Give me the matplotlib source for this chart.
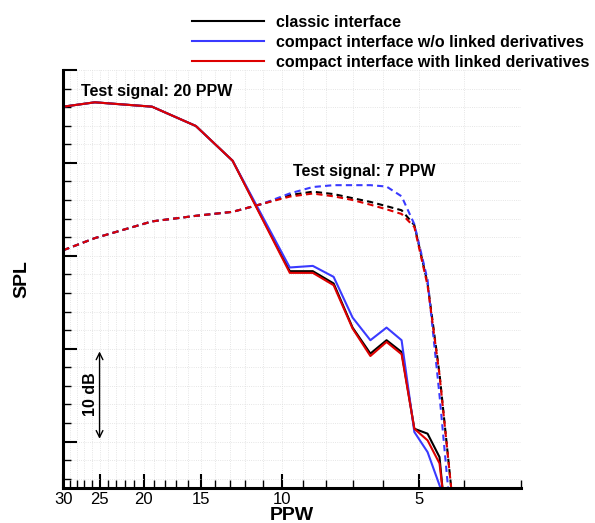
import matplotlib
matplotlib.use("Agg")
import matplotlib.pyplot as plt
from matplotlib.ticker import FixedLocator, NullFormatter, MultipleLocator

plt.rcParams['font.family'] = ['Liberation Sans', 'DejaVu Sans']

# test signal 20 PPW (solid)
ppw_20 = [30, 25.6, 19.2, 15.4, 12.8, 9.6, 8.55, 7.7, 7.0, 6.4, 5.9, 5.47, 5.13, 4.8, 4.52, 4.40]
classic_20 = [-3.95, -3.48, -3.95, -6.03, -9.77, -21.66, -21.66, -22.98, -27.73, -30.53, -29.09, -30.36, -38.62, -39.15, -41.67, -47.7]
compact_20 = [-3.95, -3.48, -3.95, -6.03, -9.77, -21.26, -21.09, -22.27, -26.65, -29.09, -27.73, -29.09, -38.97, -41.13, -44.7, -46.4]
linked_20 = [-3.95, -3.48, -3.95, -6.03, -9.77, -21.84, -21.84, -23.17, -27.83, -30.79, -29.28, -30.60, -38.62, -39.87, -42.35, -47.3]

# test signal 7 PPW (dashed)
ppw_7 = [30, 25.6, 19.2, 15.4, 12.8, 11.0, 9.6, 8.55, 7.7, 7.0, 6.4, 5.9, 5.47, 5.13, 4.8, 4.52, 4.2]
classic_7 = [-19.4, -18.1, -16.3, -15.7, -15.27, -14.4, -13.47, -13.1, -13.36, -13.8, -14.2, -14.66, -15.1, -16.7, -22.95, -32.7, -48]
compact_7 = [-19.4, -18.1, -16.3, -15.7, -15.27, -14.4, -13.29, -12.6, -12.4, -12.4, -12.4, -12.55, -13.6, -16.6, -22.6, -35.0, -52.0]
linked_7 = [-19.4, -18.1, -16.3, -15.7, -15.27, -14.4, -13.63, -13.3, -13.6, -14.0, -14.5, -15.0, -15.5, -16.9, -23.2, -32.8, -48]

labels = ['classic interface', 'compact interface w/o linked derivatives',
          'compact interface with linked derivatives']
colors = ['black', '#3a3aff', '#dd0000']

major_x = [30, 25, 20, 15, 10, 5]
minor_x = [29, 28, 27, 26, 24, 23, 22, 21, 19, 18, 17, 16, 14, 13, 12, 11,
           9, 8, 7, 6, 4, 3]

fig = plt.figure(figsize=(5.95, 5.23), dpi=100)
ax = fig.add_axes([0.1064, 0.0669, 0.7692, 0.7993])

for y20, y7, c, lab in zip([classic_20, compact_20, linked_20],
                           [classic_7, compact_7, linked_7], colors, labels):
    ax.plot(ppw_20, y20, color=c, lw=1.5, label=lab)
    ax.plot(ppw_7, y7, color=c, lw=1.5, ls=(0, (3, 2)))

ax.set_xscale('log')
ax.set_xlim(30, 3)
ax.set_ylim(-45, 0)

ax.xaxis.set_major_locator(FixedLocator(major_x))
ax.xaxis.set_minor_locator(FixedLocator(minor_x))
ax.set_xticklabels([str(v) for v in major_x])
ax.xaxis.set_minor_formatter(NullFormatter())
ax.yaxis.set_major_locator(MultipleLocator(10))
ax.yaxis.set_minor_locator(MultipleLocator(2))
ax.set_yticklabels([])

ax.tick_params(which='major', direction='in', length=10, width=1.5, labelsize=12)
ax.tick_params(which='minor', direction='in', length=6, width=1.0)
ax.tick_params(axis='x', pad=3)

for s in ['top', 'right']:
    ax.spines[s].set_visible(False)
for s in ['left', 'bottom']:
    ax.spines[s].set_linewidth(2.2)

ax.grid(True, which='both', color='#dddddd', ls=':', lw=0.6)
ax.set_axisbelow(True)

ax.set_xlabel('PPW', fontsize=14, fontweight='bold', labelpad=0)
ax.set_ylabel('SPL', fontsize=14, fontweight='bold', labelpad=20)

ax.text(27.5, -2.37, 'Test signal: 20 PPW', fontsize=11.5, fontweight='bold',
        ha='left', va='center')
ax.text(9.43, -10.96, 'Test signal: 7 PPW', fontsize=11.5, fontweight='bold',
        ha='left', va='center')

ax.annotate('', xy=(25, -30), xytext=(25, -40),
            arrowprops=dict(arrowstyle='<->', color='black', lw=1.0,
                            mutation_scale=12))
ax.text(26.2, -34.9, '10 dB', rotation=90, fontsize=11.5, fontweight='bold',
        ha='center', va='center')

ax.legend(loc='upper left', bbox_to_anchor=(0.3227, 0.972), bbox_transform=fig.transFigure,
          frameon=False, handlelength=4.5, handletextpad=0.75, labelspacing=0.32,
          borderpad=0, borderaxespad=0,
          prop={'size': 11.5, 'weight': 'bold'})

fig.savefig('out.png', dpi=100)
